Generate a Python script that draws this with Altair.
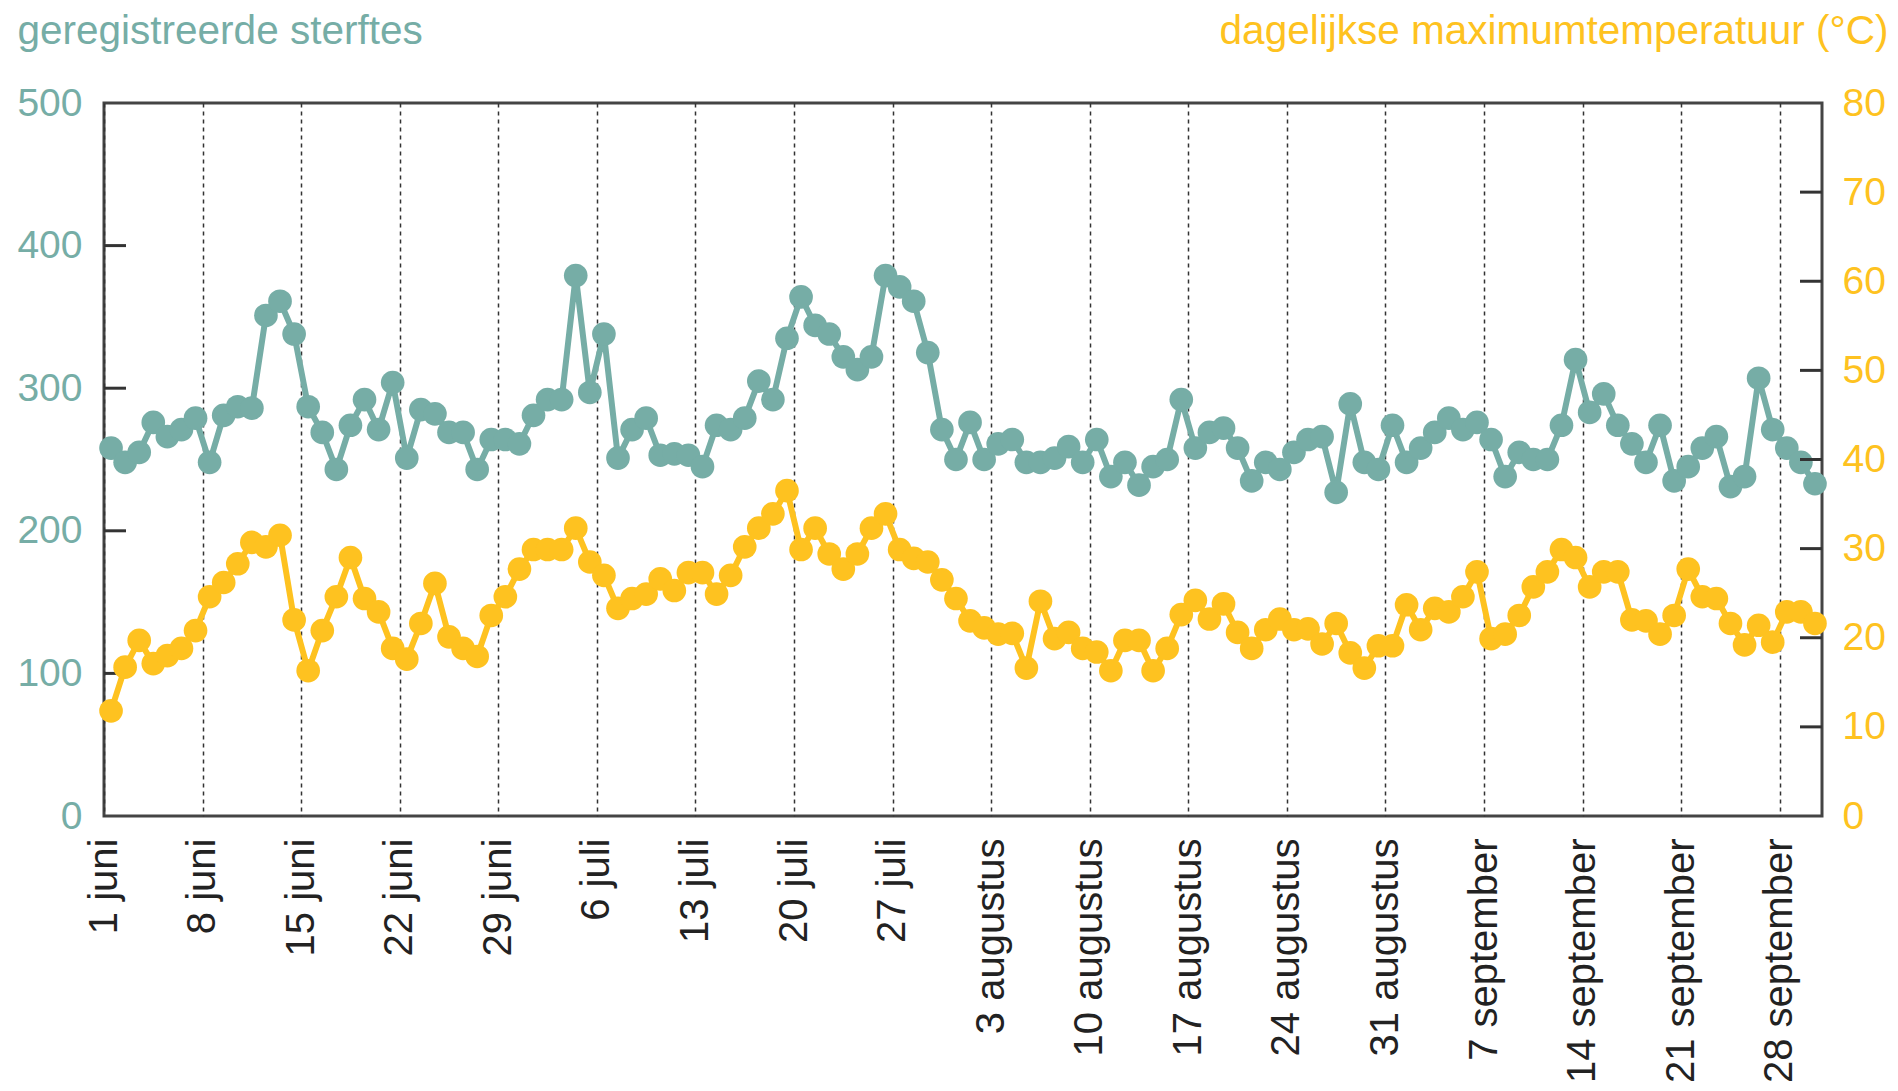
import json
import altair as alt
import pandas as pd

# geregistreerde sterftes per dag, 1 juni t/m 30 september
sterftes = [258, 248, 255, 276, 266, 271, 279, 248, 281, 287,
            286, 351, 361, 338, 287, 269, 243, 274, 292, 271,
            304, 251, 285, 282, 269, 269, 243, 264, 264, 261,
            281, 292, 292, 379, 297, 338, 251, 271, 279, 253,
            254, 253, 245, 274, 271, 279, 305, 292, 335, 364,
            344, 338, 322, 313, 322, 379, 371, 361, 325, 271,
            250, 276, 250, 261, 264, 248, 248, 251, 259, 248,
            264, 238, 248, 232, 245, 250, 292, 258, 269, 272,
            258, 235, 248, 243, 255, 264, 266, 227, 289, 248,
            243, 274, 248, 258, 269, 279, 271, 276, 264, 238,
            255, 250, 250, 274, 320, 283, 296, 274, 261, 248,
            274, 235, 245, 258, 266, 231, 238, 307, 271, 258,
            248, 233]

# dagelijkse maximumtemperatuur (°C)
temperatuur = [11.8, 16.7, 19.7, 17.1, 18.0, 18.8, 20.8, 24.6, 26.2, 28.3,
               30.7, 30.2, 31.5, 22.0, 16.3, 20.8, 24.6, 29.0, 24.4, 22.9,
               18.8, 17.6, 21.6, 26.1, 20.1, 18.8, 17.9, 22.5, 24.6, 27.7,
               29.9, 29.9, 29.9, 32.3, 28.5, 27.0, 23.3, 24.4, 24.9, 26.6,
               25.3, 27.3, 27.3, 24.9, 27.0, 30.2, 32.3, 33.9, 36.5, 29.9,
               32.3, 29.4, 27.7, 29.4, 32.3, 33.9, 29.9, 28.9, 28.5, 26.5,
               24.4, 21.9, 21.1, 20.4, 20.5, 16.6, 24.1, 19.9, 20.6, 18.8,
               18.4, 16.3, 19.7, 19.7, 16.3, 18.8, 22.6, 24.2, 22.1, 23.8,
               20.6, 18.8, 20.9, 22.1, 20.9, 21.0, 19.3, 21.6, 18.3, 16.6,
               19.1, 19.1, 23.7, 20.9, 23.3, 22.9, 24.6, 27.4, 19.9, 20.4,
               22.5, 25.7, 27.4, 29.9, 29.0, 25.7, 27.4, 27.4, 22.0, 21.9,
               20.4, 22.5, 27.7, 24.6, 24.4, 21.6, 19.2, 21.4, 19.5, 22.9,
               22.9, 21.6]

x_labels = ["1 juni", "8 juni", "15 juni", "22 juni", "29 juni", "6 juli",
            "13 juli", "20 juli", "27 juli", "3 augustus", "10 augustus",
            "17 augustus", "24 augustus", "31 augustus", "7 september",
            "14 september", "21 september", "28 september"]
x_tick_days = [7 * k for k in range(len(x_labels))]
left_ticks = [0, 100, 200, 300, 400, 500]
right_ticks = [0, 10, 20, 30, 40, 50, 60, 70, 80]
left_inner_ticks = [100, 200, 300, 400]
right_inner_ticks = [10, 20, 30, 40, 50, 60, 70]

TEAL = "#76ada6"
YELLOW = "#fec220"
DARK = "#333333"
FONT = "Liberation Sans"
W, H = 1718, 713

df = pd.DataFrame({
    "dag": list(range(len(sterftes))),
    "sterftes": sterftes,
    "temperatuur": temperatuur,
})

label_expr = json.dumps(x_labels) + "[round(datum.value / 7)]"

x_enc = alt.X(
    "midden:Q",
    scale=alt.Scale(domain=[0, 122], nice=False, zero=False),
    axis=alt.Axis(
        values=x_tick_days, labelExpr=label_expr, labelAngle=270,
        labelAlign="right", labelBaseline="middle", labelPadding=22,
        labelFontSize=40, labelColor="#222222", labelFont=FONT,
        labelLimit=500, grid=True, gridDash=[4, 4], gridColor=DARK,
        gridWidth=1.5, domain=False, ticks=False, title=None,
        labelOverlap=False,
    ),
)

base = alt.Chart(df).transform_calculate(midden="datum.dag + 0.5")

left_axis = alt.Axis(
    orient="left", values=left_ticks, labelColor=TEAL, labelFontSize=39,
    labelFont=FONT, labelPadding=22, ticks=False, domain=False, grid=False,
    title="geregistreerde sterftes", titleAngle=0, titleAlign="left",
    titleBaseline="alphabetic", titleX=-87, titleY=-60, titleColor=TEAL,
    titleFontSize=40.5, titleFont=FONT, titleFontWeight="normal",
)
right_axis = alt.Axis(
    orient="right", values=right_ticks, labelColor=YELLOW, labelFontSize=39,
    labelFont=FONT, labelPadding=20, ticks=False, domain=False, grid=False,
    title="dagelijkse maximumtemperatuur (°C)", titleAngle=0,
    titleAlign="right", titleBaseline="alphabetic", titleX=66, titleY=-60,
    titleColor=YELLOW, titleFontSize=40.5, titleFont=FONT,
    titleFontWeight="normal",
)

y_left = alt.Y("sterftes:Q", scale=alt.Scale(domain=[0, 500], nice=False), axis=left_axis)
y_right = alt.Y("temperatuur:Q", scale=alt.Scale(domain=[0, 80], nice=False), axis=right_axis)

teal_line = base.mark_line(color=TEAL, strokeWidth=6).encode(x=x_enc, y=y_left)
teal_pts = base.mark_circle(color=TEAL, size=560, opacity=1).encode(x=x_enc, y=y_left)
teal_ticks = alt.Chart(pd.DataFrame({"sterftes": left_inner_ticks})).mark_rule(
    color=DARK, strokeWidth=3).encode(y=y_left, x=alt.value(0), x2=alt.value(22))

yellow_line = base.mark_line(color=YELLOW, strokeWidth=6).encode(x=x_enc, y=y_right)
yellow_pts = base.mark_circle(color=YELLOW, size=560, opacity=1).encode(x=x_enc, y=y_right)
yellow_ticks = alt.Chart(pd.DataFrame({"temperatuur": right_inner_ticks})).mark_rule(
    color=DARK, strokeWidth=3).encode(y=y_right, x=alt.value(W), x2=alt.value(W - 22))

teal_layer = alt.layer(teal_ticks, teal_line, teal_pts)
yellow_layer = alt.layer(yellow_ticks, yellow_line, yellow_pts)

chart = alt.layer(teal_layer, yellow_layer).resolve_scale(y="independent").properties(
    width=W, height=H,
    autosize=alt.AutoSizeParams(type="none"),
    padding={"left": 96, "top": 95, "right": 68, "bottom": 267},
    background="white",
).configure_view(stroke="#444444", strokeWidth=3)

chart.save("out.html", embed_options={"renderer": "svg", "actions": False})
